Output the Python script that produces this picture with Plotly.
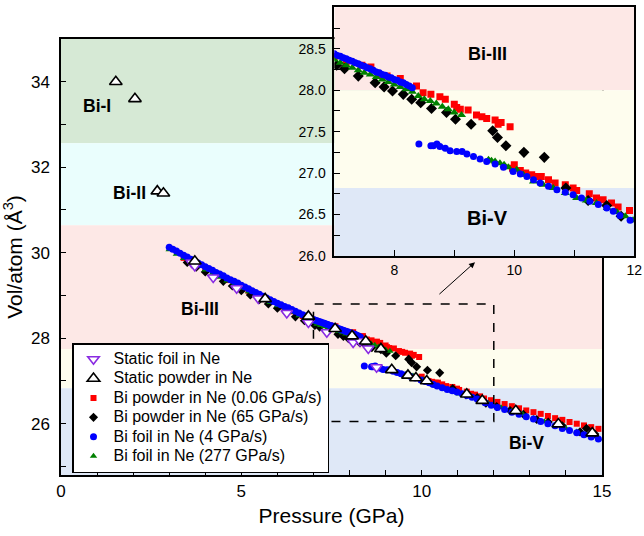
import plotly.graph_objects as go

# ---------------- data ----------------
# Static foil in Ne (open inverted triangles)
foil_static_p = [3.62, 3.71, 4.22, 4.87, 5.47, 6.26, 6.86, 7.37, 8.10, 8.29, 8.52, 8.75]
foil_static_v = [29.77, 29.69, 29.42, 29.17, 28.93, 28.59, 28.37, 28.14, 27.90, 27.93, 27.76, 27.32]

# Static powder in Ne (open triangles)
powder_static_p = [1.52, 2.05, 2.67, 2.84, 3.71, 5.66, 6.86, 7.60, 8.07, 8.45, 8.87, 9.17, 9.62,
                   9.84, 10.14, 11.25, 11.68, 12.61, 13.79, 14.73]
powder_static_v = [34.00, 33.60, 31.44, 31.39, 29.80, 28.92, 28.51, 28.22, 28.05, 27.93, 27.75, 27.26,
                   27.13, 27.07, 27.00, 26.69, 26.54, 26.30, 25.99, 25.78]

# Bi powder in Ne (0.06 GPa/s) - red squares
red_p = [3.4, 3.7, 4.0, 4.3, 4.6, 4.9, 5.2, 5.5, 5.8, 6.1, 6.4, 6.7, 7.0, 7.2, 7.46, 7.61, 7.75, 7.88,
         8.10, 8.37, 8.48, 8.61, 8.76, 8.85, 9.00, 9.04, 9.10, 9.23, 9.37, 9.46, 9.54, 9.68, 9.73,
         9.78, 9.93,
         9.97, 10.00, 10.10, 10.19, 10.29, 10.39, 10.45, 10.57, 10.68, 10.85, 10.98, 11.04, 11.25,
         11.37, 11.48, 11.62, 11.73, 11.92, 12.10, 12.30, 12.50, 12.70, 12.90, 13.10, 13.30, 13.50,
         13.70, 13.90, 14.10, 14.30, 14.50, 14.70, 14.90]
red_v = [29.88, 29.74, 29.61, 29.48, 29.36, 29.23, 29.11, 28.98, 28.86, 28.74, 28.63, 28.52, 28.41,
         28.35, 28.30, 28.28, 28.18, 28.17, 28.14, 28.05, 27.97, 27.95, 27.92, 27.89, 27.83, 27.79,
         27.77, 27.76, 27.70, 27.68, 27.66, 27.64, 27.59, 27.61, 27.56,
         27.06, 27.10, 27.03, 27.00, 26.98, 26.96, 26.96, 26.92, 26.88, 26.86, 26.82, 26.79, 26.75,
         26.70, 26.68, 26.64, 26.59, 26.55, 26.51, 26.46, 26.41, 26.36, 26.31, 26.27, 26.23, 26.18,
         26.13, 26.09, 26.04, 26.00, 25.96, 25.92, 25.88]

# Bi powder in Ne (65 GPa/s) - black diamonds
blk_p = [3.5, 3.75, 4.0, 4.25, 4.5, 4.75, 5.0, 5.25, 5.5, 5.75, 6.0, 6.25, 6.5, 6.75, 7.04, 7.17,
         7.40, 7.68, 7.83, 7.97, 8.15, 8.29, 8.44, 8.62, 8.87, 9.02, 9.28, 9.64, 9.72, 9.86, 10.16,
         10.50,
         10.86, 11.23, 11.54, 11.78, 12.08, 12.45, 12.82, 13.19, 13.51, 13.90, 14.39, 14.57, 14.80]
blk_v = [29.77, 29.66, 29.55, 29.44, 29.33, 29.22, 29.11, 29.01, 28.90, 28.80, 28.70, 28.60, 28.50,
         28.41, 28.30, 28.26, 28.17, 28.09, 28.04, 27.99, 27.95, 27.89, 27.85, 27.78, 27.73, 27.65,
         27.59, 27.51, 27.43, 27.33, 27.25, 27.19,
         26.82, 26.67, 26.61, 26.48, 26.40, 26.31, 26.22, 26.10, 26.04, 25.95, 25.81, 25.89, 25.76]

# Bi foil in Ne (4 GPa/s) - blue circles
blue_p = [3.0, 3.1, 3.2, 3.3, 3.4, 3.5, 3.6, 3.7, 3.8, 3.9, 4.0, 4.1, 4.2, 4.3, 4.4, 4.5, 4.6, 4.7,
          4.8, 4.9, 5.0, 5.1, 5.2, 5.3, 5.4, 5.5, 5.6, 5.7, 5.8, 5.9, 6.0, 6.1, 6.2, 6.3, 6.4, 6.5,
          6.6, 6.7, 6.8, 6.9, 7.0, 7.05, 7.1, 7.15, 7.2, 7.25, 7.3, 7.35, 7.4, 7.45, 7.5, 7.55, 7.6,
          7.65, 7.7, 7.75, 7.8, 7.85, 7.9, 7.95, 8.0, 8.05, 8.1, 8.15, 8.2, 8.25, 8.3,
          8.41, 8.61, 8.65, 8.71, 8.76, 8.85, 8.93, 9.04, 9.13, 9.21, 9.32, 9.43, 9.54, 9.68, 9.82,
          9.98, 10.10, 10.21, 10.32, 10.43, 10.57, 10.71, 10.85, 10.98, 11.12, 11.26, 11.40, 11.54,
          11.65, 11.76, 11.93, 12.10, 12.30, 12.50, 12.70, 12.90, 13.10, 13.30, 13.50, 13.70, 13.90,
          14.10, 14.30, 14.50, 14.70, 14.90]
blue_v = [30.13, 30.08, 30.04, 29.99, 29.94, 29.90, 29.85, 29.80, 29.76, 29.72, 29.67, 29.63, 29.59,
          29.54, 29.50, 29.46, 29.41, 29.37, 29.33, 29.29, 29.24, 29.20, 29.16, 29.11, 29.07, 29.03,
          28.98, 28.94, 28.90, 28.86, 28.82, 28.78, 28.74, 28.71, 28.67, 28.63, 28.59, 28.55, 28.52,
          28.48, 28.44, 28.42, 28.41, 28.39, 28.38, 28.36, 28.35, 28.33, 28.32, 28.30, 28.29, 28.27,
          28.26, 28.24, 28.22, 28.21, 28.19, 28.18, 28.16, 28.15, 28.13, 28.12, 28.10, 28.09, 28.07,
          28.05, 28.03,
          27.35, 27.33, 27.33, 27.35, 27.32, 27.30, 27.27, 27.26, 27.26, 27.23, 27.20, 27.17, 27.14,
          27.11, 27.07, 27.02, 26.99, 26.96, 26.92, 26.88, 26.84, 26.80, 26.77, 26.74, 26.70, 26.66,
          26.62, 26.58, 26.54, 26.49, 26.43, 26.38, 26.33, 26.27, 26.22, 26.16, 26.11, 26.05, 26.00,
          25.95, 25.89, 25.84, 25.79, 25.74, 25.69, 25.64]

# Bi foil in Ne (277 GPa/s) - green triangles
grn_p = [3.0, 3.2, 3.4, 3.6, 3.8, 4.0, 4.2, 4.4, 4.6, 4.8, 5.0, 5.2, 5.4, 5.6, 5.8, 6.0, 6.2, 6.4,
         6.6, 6.8, 7.0, 7.1, 7.2, 7.3, 7.4, 7.5, 7.6, 7.7, 7.8, 7.9, 8.0, 8.1, 8.2, 8.3, 8.4, 8.5,
         8.6, 8.7, 8.8, 8.9, 9.0, 9.12,
         9.57, 9.62, 9.68, 9.76, 9.83, 9.90, 10.04, 10.15, 10.32, 10.48, 10.65, 10.85, 11.04, 11.20,
         11.37, 11.55, 11.71, 11.85, 11.98, 12.20, 12.50, 12.80, 13.10, 13.40, 13.70, 14.00, 14.30,
         14.60, 14.90]
grn_v = [30.07, 29.97, 29.87, 29.78, 29.69, 29.60, 29.52, 29.43, 29.34, 29.26, 29.17, 29.09, 29.00,
         28.92, 28.84, 28.76, 28.68, 28.61, 28.53, 28.46, 28.37, 28.33, 28.30, 28.27, 28.24, 28.21,
         28.19, 28.16, 28.13, 28.10, 28.07, 28.04, 28.01, 27.98, 27.93, 27.89, 27.87, 27.84, 27.80,
         27.77, 27.73, 27.70,
         27.16, 27.15, 27.14, 27.12, 27.10, 27.07, 27.04, 26.98, 26.90, 26.86, 26.82, 26.76, 26.70,
         26.67, 26.64, 26.58, 26.53, 26.48, 26.43, 26.38, 26.30, 26.22, 26.13, 26.05, 25.97, 25.89,
         25.81, 25.73, 25.65]

# phase bands (volume boundaries)
main_bands = [(32.56, 35.0, "#d6e9d5"), (30.64, 32.56, "#eafefd"), (27.75, 30.64, "#fde8e6"),
              (26.83, 27.75, "#fefdee"), (24.8, 26.83, "#dfe8f7")]
inset_bands = [(28.0, 29.0, "#fde8e6"), (26.82, 28.0, "#fefdee"), (26.0, 26.82, "#dfe8f7")]

FONT = "Liberation Sans, Arial, sans-serif"

def legname(s):
    return "<span style='font-size:16px'>%s</span>" % s

fig = go.Figure()

# ---------------- main plot traces ----------------
dyn = [
    ("Bi powder in Ne (0.06 GPa/s)", red_p, red_v, "square", "#ff0000", 6, 7, 3),
    ("Bi powder in Ne (65 GPa/s)", blk_p, blk_v, "diamond", "#000000", 7, 8.5, 4),
    ("Bi foil in Ne (277 GPa/s)", grn_p, grn_v, "triangle-up", "#008000", 6.5, 8, 6),
    ("Bi foil in Ne (4 GPa/s)", blue_p, blue_v, "circle", "#0000ff", 7, 7, 5),
]

for name, px_, pv, sym, col, s_main, s_in, rk in dyn:
    fig.add_trace(go.Scatter(x=px_, y=pv, mode="markers", name=legname(name), legendrank=rk,
                             marker=dict(symbol=sym, size=s_main, color=col, line=dict(width=0))))
fig.add_trace(go.Scatter(x=foil_static_p, y=foil_static_v, mode="markers",
                         name=legname("Static foil in Ne"), legendrank=1,
                         marker=dict(symbol="triangle-down", size=10, color="white",
                                     line=dict(color="#8a2be2", width=1.6))))
fig.add_trace(go.Scatter(x=powder_static_p, y=powder_static_v, mode="markers",
                         name=legname("Static powder in Ne"), legendrank=2,
                         marker=dict(symbol="triangle-up", size=11, color="white",
                                     line=dict(color="black", width=1.6))))

# ---------------- inset traces ----------------
for name, px_, pv, sym, col, s_main, s_in, rk in dyn:
    fig.add_trace(go.Scatter(x=px_, y=pv, mode="markers", name=name, showlegend=False,
                             xaxis="x2", yaxis="y2",
                             marker=dict(symbol=sym, size=s_in, color=col, line=dict(width=0))))

# ---------------- shapes ----------------
shapes = []
for y0, y1, c in main_bands:
    shapes.append(dict(type="rect", xref="x", yref="y", x0=0, x1=15, y0=y0, y1=y1,
                       fillcolor=c, line=dict(width=0), layer="below"))
for y0, y1, c in inset_bands:
    shapes.append(dict(type="rect", xref="x2", yref="y2", x0=7, x1=12, y0=y0, y1=y1,
                       fillcolor=c, line=dict(width=0), layer="below"))
shapes.append(dict(type="rect", xref="x", yref="y", x0=7, x1=12, y0=26.05, y1=28.8,
                   line=dict(color="black", width=1.5, dash="dash"), fillcolor="rgba(0,0,0,0)",
                   layer="above"))

# ---------------- annotations ----------------
ann = []
def lab(text, x, y, size, xr="x", yr="y"):
    ann.append(dict(text="<b>%s</b>" % text, x=x, y=y, xref=xr, yref=yr, showarrow=False,
                    font=dict(family=FONT, size=size, color="black")))
lab("Bi-I", 1.0, 33.44, 17.5)
lab("Bi-II", 1.9, 31.4, 17.5)
lab("Bi-III", 3.85, 28.68, 17.5)
lab("Bi-V", 12.92, 25.54, 17.5)
lab("Bi-III", 9.56, 28.44, 18, "x2", "y2")
lab("Bi-V", 9.56, 26.46, 20, "x2", "y2")
ann.append(dict(x=11.48, y=29.78, ax=10.45, ay=29.0, xref="x", yref="y", axref="x", ayref="y",
                showarrow=True, arrowhead=2, arrowsize=1.2, arrowwidth=1, arrowcolor="black",
                text=""))

axis_common = dict(showline=True, linecolor="black", linewidth=1.5, mirror=True,
                   ticks="inside", tickcolor="black", tickwidth=1.3, showgrid=False,
                   zeroline=False, tickfont=dict(family=FONT, size=17, color="black"))
inset_font = dict(family=FONT, size=14, color="black")

fig.update_layout(
    width=644, height=536, margin=dict(l=0, r=0, t=0, b=0, autoexpand=False),
    paper_bgcolor="white", plot_bgcolor="rgba(0,0,0,0)",
    font=dict(family=FONT, color="black"),
    xaxis=dict(domain=[61 / 644, 602 / 644], range=[0, 15], tickvals=[0, 5, 10, 15],
               ticklen=5, minor=dict(dtick=1, ticks="inside", ticklen=5, tickcolor="black",
                                     tickwidth=1.3, showgrid=False),
               title=dict(text="Pressure (GPa)", font=dict(family=FONT, size=21), standoff=8),
               anchor="y", **axis_common),
    yaxis=dict(domain=[61 / 536, 497 / 536], range=[24.8, 35], tickvals=[26, 28, 30, 32, 34],
               ticklen=5, minor=dict(dtick=1, tick0=25, ticks="inside", ticklen=5,
                                     tickcolor="black", tickwidth=1.3, showgrid=False),
               title=dict(text="Vol/atom (Å<sup>3</sup>)", font=dict(family=FONT, size=21),
                          standoff=8),
               ticklabelstandoff=6, anchor="x", **axis_common),
    xaxis2=dict(domain=[334.3 / 644, 634.3 / 644], range=[7, 12], tickvals=[8, 10, 12],
                ticklen=6, minor=dict(dtick=1, ticks="inside", ticklen=6, tickcolor="black",
                                      tickwidth=1.3, showgrid=False),
                anchor="y2", **{**axis_common, "tickfont": inset_font}),
    yaxis2=dict(domain=[280 / 536, 528.7 / 536], range=[26, 29], dtick=0.5, tick0=26,
                tickformat=".1f", ticklen=6,
                minor=dict(dtick=0.25, ticks="inside", ticklen=6, tickcolor="black",
                           tickwidth=1.3, showgrid=False),
                ticklabelstandoff=4,
                anchor="x2", **{**axis_common, "tickfont": inset_font}),
    legend=dict(x=72 / 644, y=(536 - 343) / 536, xanchor="left", yanchor="top",
                bgcolor="white", bordercolor="black", borderwidth=1.5,
                font=dict(family=FONT, size=12.6, color="black"), tracegroupgap=0,
                itemsizing="trace"),
    shapes=shapes, annotations=ann,
)

fig.write_html("out.html", config={"displayModeBar": False},
               post_script="document.body.style.margin='0';")
